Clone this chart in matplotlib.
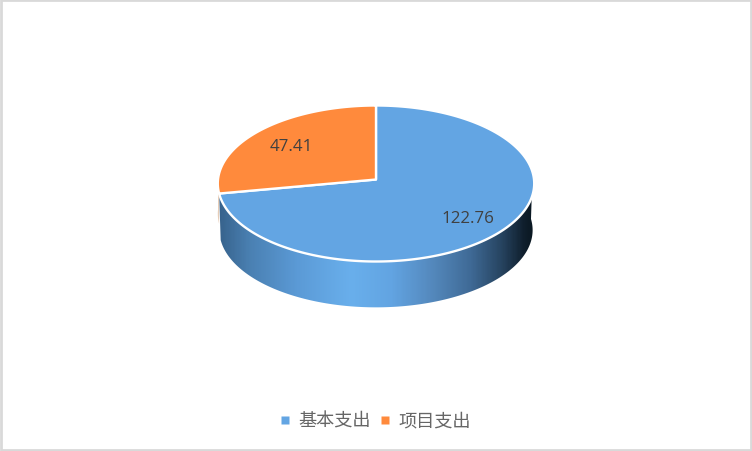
import numpy as np
import matplotlib
matplotlib.use("Agg")
import matplotlib.pyplot as plt
from matplotlib.patches import Polygon, Rectangle
from matplotlib.colors import LinearSegmentedColormap

categories = ["基本支出", "项目支出"]
values = [122.76, 47.41]
colors = ["#63A5E3", "#FF8A3C"]
label_colors = "#404040"

W, H = 752, 452
fig = plt.figure(figsize=(W / 100, H / 100), dpi=100)
ax = fig.add_axes([0, 0, 1, 1])
ax.set_xlim(0, W)
ax.set_ylim(H, 0)
ax.axis("off")
ax.add_patch(Rectangle((1, 1), W - 2.5, H - 2.5, fc="white", ec="#D9D9D9", lw=2))

CX, CY, R, A, B, DEPTH = 376.0, 180.5, 158.0, 77.8, 0.0513, 46.0
BOTTOM_SCALE = 0.99

def proj(theta, r=1.0, dz=0.0):
    u = r * np.sin(theta)
    v = r * np.cos(theta)
    d = 1 + B * v
    return CX + R * u / d, CY - A * v / d + dz

frac = np.array(values) / sum(values)
edges = np.concatenate([[0], np.cumsum(frac)]) * 2 * np.pi

# side wall, shaded by a horizontal gradient
th = np.linspace(np.pi * 0.47, edges[1], 300)
x, y = proj(th)
x2, y2 = proj(th[::-1], r=BOTTOM_SCALE, dz=DEPTH + 0.7)
wall = Polygon(np.column_stack([np.r_[x, x2], np.r_[y, y2]]), fc="none", ec="none")
ax.add_patch(wall)
cmap = LinearSegmentedColormap.from_list("side", [
    (0.00, "#36618A"), (0.10, "#4A80B2"), (0.25, "#5B9AD6"), (0.42, "#69AFEC"),
    (0.55, "#62A4E2"), (0.68, "#5488BC"), (0.80, "#3F6A96"), (0.90, "#26435F"),
    (0.97, "#0F1E2C"), (1.00, "#0A1620")])
img = ax.imshow(np.linspace(0, 1, 320)[None, :], cmap=cmap, aspect="auto",
                extent=(217, 535, 320, 170), zorder=2)
img.set_clip_path(wall)
ax.set_xlim(0, W)
ax.set_ylim(H, 0)

# thin sliver of the orange wall at far left
sl = np.linspace(edges[1], np.pi * 1.5, 60)
xs, ys = proj(sl)
xb, yb = proj(sl[::-1], dz=DEPTH * 0.66)
ax.add_patch(Polygon(np.column_stack([np.r_[xs, xb], np.r_[ys, yb]]),
                     fc="#E6CDB8", ec="none", zorder=3))

# top surface
for i, (val, col) in enumerate(zip(values, colors)):
    t = np.linspace(edges[i], edges[i + 1], 300)
    px, py = proj(t)
    ax.add_patch(Polygon(np.column_stack([np.r_[CX, px], np.r_[CY, py]]), closed=True,
                         fc=col, ec="white", lw=1.7, joinstyle="round", zorder=4))

lab_font = ["Open Sans", "DejaVu Sans"]
ax.text(467.5, 219, f"{values[0]:.2f}", ha="center", va="center", fontsize=12.2,
        color=label_colors, family=lab_font, zorder=5)
ax.text(291.5, 147, f"{values[1]:.2f}", ha="center", va="center", fontsize=12.2,
        color=label_colors, family=lab_font, zorder=5)

# legend
cjk = ["Noto Sans CJK SC", "DejaVu Sans"]
for name, col, mx, tx in zip(categories, colors, [285, 385], [298, 398]):
    ax.plot([mx], [420.5], marker="s", ms=5.8, color=col, mec="none", zorder=5)
    ax.text(tx, 421.5, name, ha="left", va="center",
            fontsize=13.1, color="#666666", family=cjk, zorder=5)

fig.savefig("out.png", dpi=100)
